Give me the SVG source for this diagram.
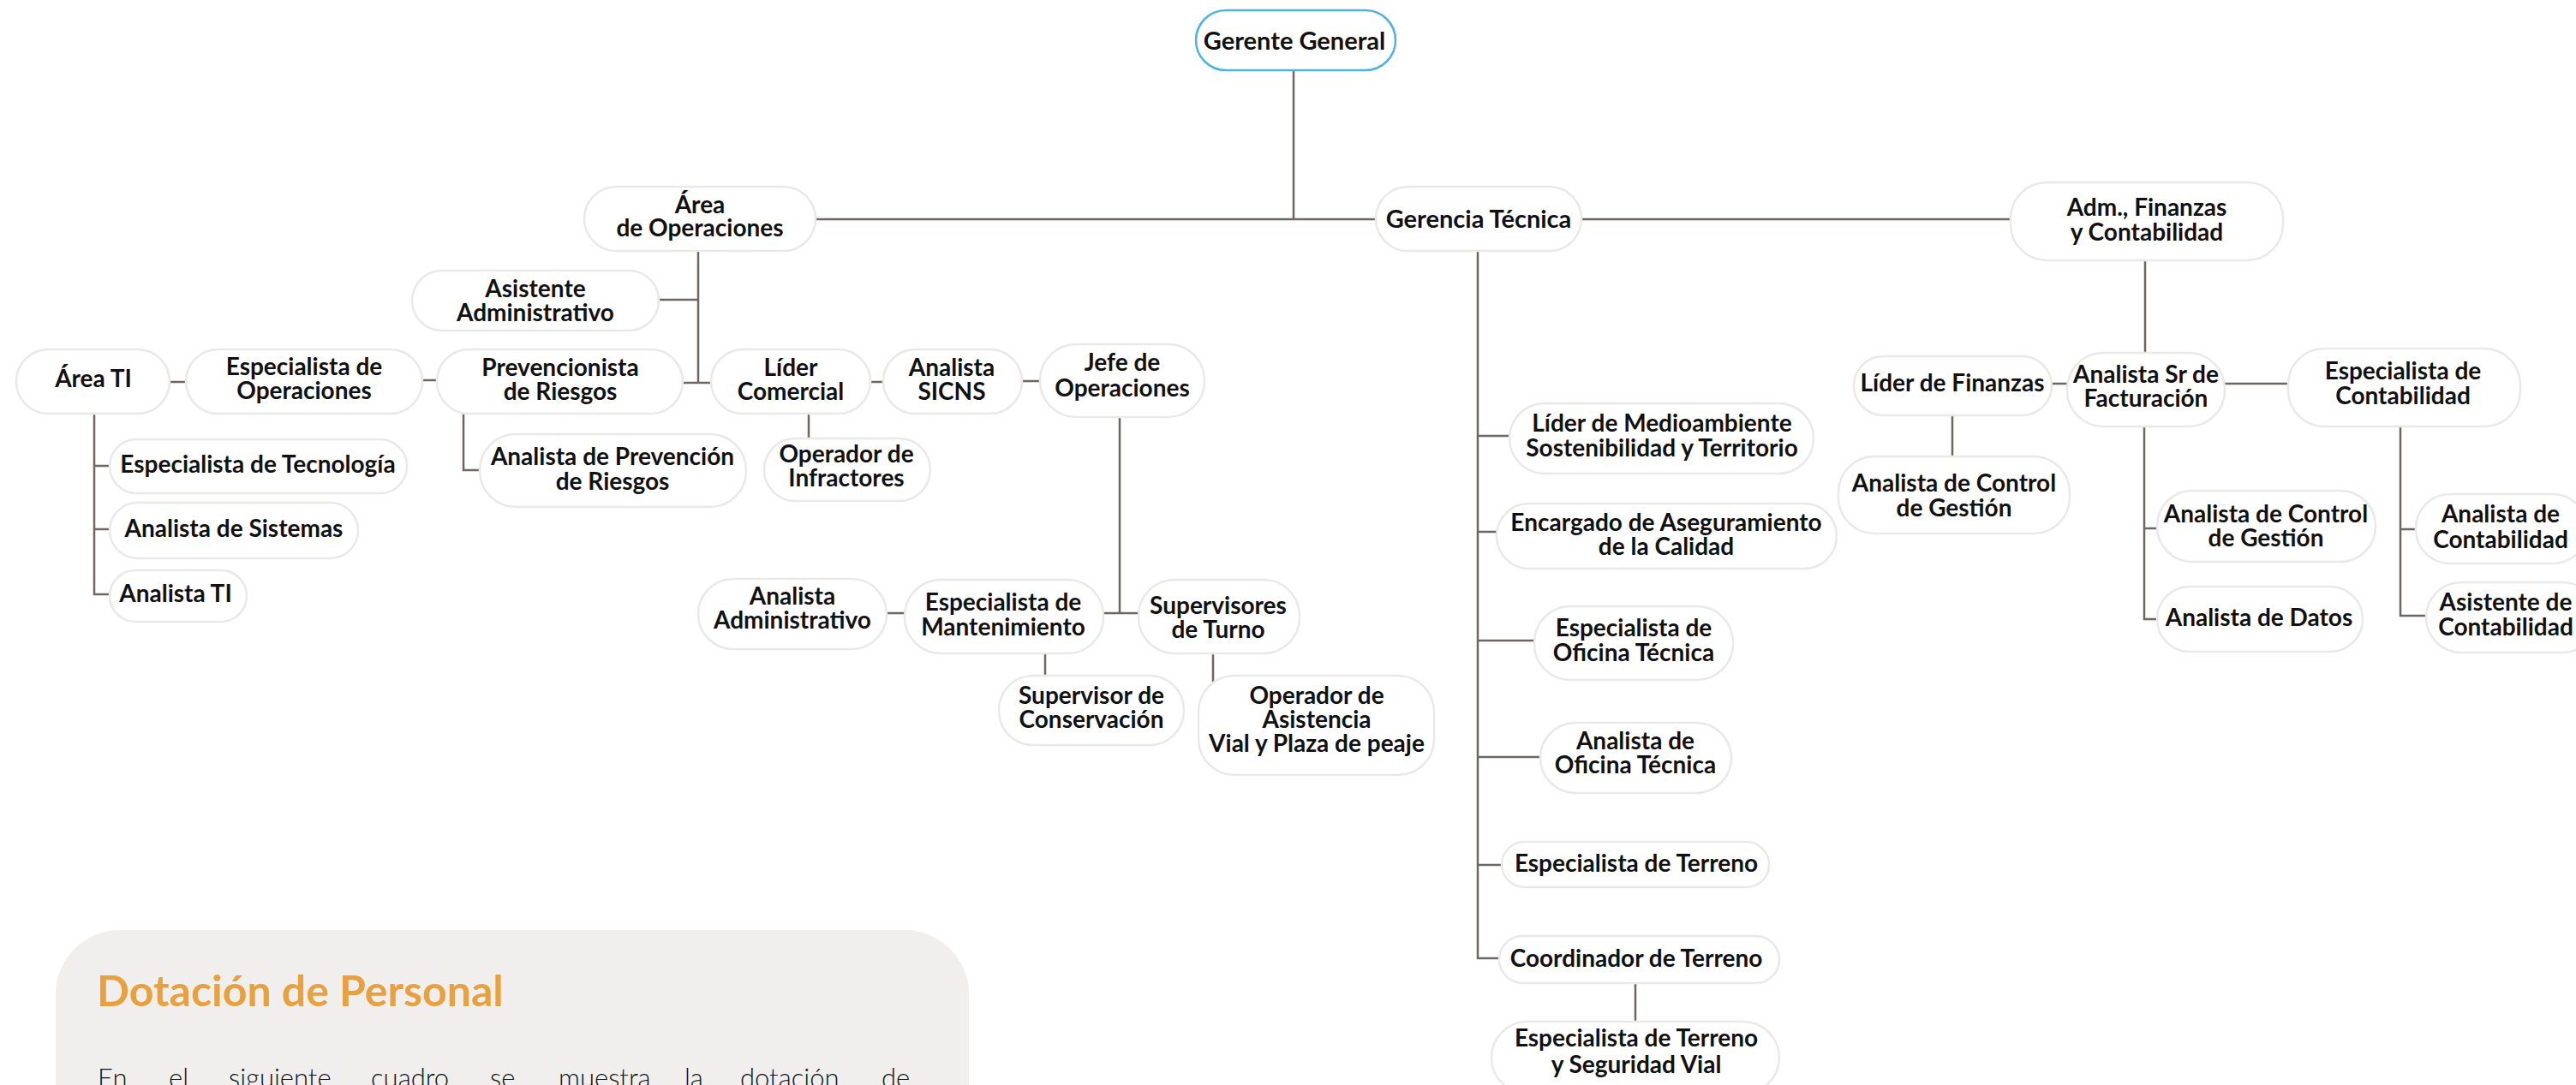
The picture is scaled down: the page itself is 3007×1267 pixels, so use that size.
<svg xmlns="http://www.w3.org/2000/svg" width="3007" height="1267" viewBox="0 0 3007 1267">
<style>
.n rect{fill:#fff;stroke:#ebe9e7;stroke-width:2.5}
.n text{font-family:Lato,"Liberation Sans",sans-serif;font-weight:700;font-size:28px;fill:#111;text-anchor:middle}
#gerente rect{stroke:#4fb3e1}
.big text{font-size:29px}
#connectors path{fill:none;stroke:#6f6562;stroke-width:2.5;stroke-linejoin:miter}
.title{font-family:Lato,"Liberation Sans",sans-serif;font-weight:700;font-size:50px;fill:#e9a03f}
.body{font-family:Lato,"Liberation Sans",sans-serif;font-weight:300;font-size:31px;fill:#111}
</style>
<rect width="3007" height="1267" fill="#fff"/>
<g id="connectors">
<path d="M1510 82V256"/>
<path d="M951 256H1606"/>
<path d="M1846 256H2347"/>
<path d="M815 293V447M770 350H815M797 447H830"/>
<path d="M1016 446H1031"/>
<path d="M1193 445H1214"/>
<path d="M944 483V512"/>
<path d="M541 483V549H560"/>
<path d="M493 444H510"/>
<path d="M198 446H217"/>
<path d="M110 483V694H128M110 544H128M110 618H128"/>
<path d="M1307 487V716M1288 716H1329"/>
<path d="M1035 716H1056"/>
<path d="M1220 763V789"/>
<path d="M1416 763V804"/>
<path d="M1725 293V1119H1750M1725 509H1762M1725 621H1747M1725 748H1791M1725 884H1799M1725 1010H1753"/>
<path d="M1909 1148V1193"/>
<path d="M2504 304V412"/>
<path d="M2395 448H2413"/>
<path d="M2597 448H2671"/>
<path d="M2279 485V533"/>
<path d="M2503 498V723H2518M2503 617H2518"/>
<path d="M2802 498V719H2832M2802 618H2820"/>
</g>
<g id="gerente" class="n big"><rect x="1396" y="12" width="233" height="70" rx="35"/><text x="1511" y="58">Gerente General</text></g>
<g id="area-ops" class="n"><rect x="682" y="218" width="270" height="75" rx="37.5"/><text x="817" y="249">Área</text><text x="817" y="276">de Operaciones</text></g>
<g id="gerencia-tec" class="n big"><rect x="1606" y="218" width="240" height="75" rx="37.5"/><text x="1726" y="266">Gerencia Técnica</text></g>
<g id="adm" class="n"><rect x="2347" y="213" width="318" height="91" rx="42"/><text x="2506" y="252">Adm., Finanzas</text><text x="2506" y="281">y Contabilidad</text></g>
<g id="asist-adm" class="n"><rect x="481" y="316" width="288" height="70" rx="35"/><text x="625" y="347">Asistente</text><text x="625" y="375">Administrativo</text></g>
<g id="area-ti" class="n"><rect x="19" y="408" width="179" height="75" rx="37.5"/><text x="109" y="452">Área TI</text></g>
<g id="esp-ops" class="n"><rect x="217" y="408" width="276" height="75" rx="37.5"/><text x="355" y="438">Especialista  de</text><text x="355" y="466">Operaciones</text></g>
<g id="prev" class="n"><rect x="510" y="408" width="287" height="75" rx="37.5"/><text x="654" y="439">Prevencionista</text><text x="654" y="467">de Riesgos</text></g>
<g id="lider-com" class="n"><rect x="830" y="408" width="186" height="75" rx="37.5"/><text x="923" y="439">Líder</text><text x="923" y="467">Comercial</text></g>
<g id="sicns" class="n"><rect x="1031" y="408" width="162" height="75" rx="37.5"/><text x="1111" y="439">Analista</text><text x="1111" y="467">SICNS</text></g>
<g id="jefe-ops" class="n"><rect x="1214" y="402" width="192" height="85" rx="42"/><text x="1310" y="433">Jefe de</text><text x="1310" y="463">Operaciones</text></g>
<g id="esp-tec" class="n"><rect x="128" y="513" width="347" height="63" rx="31.5"/><text x="301" y="552">Especialista de Tecnología</text></g>
<g id="an-sis" class="n"><rect x="128" y="587" width="290" height="65" rx="32.5"/><text x="273" y="627">Analista de Sistemas</text></g>
<g id="an-ti" class="n"><rect x="128" y="666" width="160" height="60" rx="30"/><text x="205" y="703">Analista TI</text></g>
<g id="an-prev" class="n"><rect x="560" y="507" width="311" height="85" rx="42"/><text x="715" y="543">Analista de Prevención</text><text x="715" y="572">de Riesgos</text></g>
<g id="op-inf" class="n"><rect x="892" y="512" width="194" height="73" rx="36.5"/><text x="988" y="540">Operador de</text><text x="988" y="568">Infractores</text></g>
<g id="an-adm" class="n"><rect x="815" y="676" width="220" height="82" rx="41"/><text x="925" y="706">Analista</text><text x="925" y="734">Administrativo</text></g>
<g id="esp-mant" class="n"><rect x="1056" y="677" width="232" height="86" rx="42"/><text x="1171" y="713">Especialista de</text><text x="1171" y="742">Mantenimiento</text></g>
<g id="sup-turno" class="n"><rect x="1329" y="677" width="188" height="86" rx="42"/><text x="1422" y="717">Supervisores</text><text x="1422" y="745">de Turno</text></g>
<g id="sup-cons" class="n"><rect x="1166" y="789" width="216" height="81" rx="40"/><text x="1274" y="822">Supervisor de</text><text x="1274" y="850">Conservación</text></g>
<g id="op-asist" class="n"><rect x="1399" y="789" width="275" height="116" rx="42"/><text x="1537" y="822">Operador de</text><text x="1537" y="850">Asistencia</text><text x="1537" y="878">Vial y Plaza de peaje</text></g>
<g id="lider-medio" class="n"><rect x="1762" y="471" width="355" height="82" rx="41"/><text x="1940" y="504">Líder de Medioambiente</text><text x="1940" y="533">Sostenibilidad y Territorio</text></g>
<g id="encargado" class="n"><rect x="1747" y="588" width="397" height="76" rx="38"/><text x="1945" y="620">Encargado de Aseguramiento</text><text x="1945" y="648">de la Calidad</text></g>
<g id="esp-ofi" class="n"><rect x="1791" y="708" width="232" height="86" rx="42"/><text x="1907" y="743">Especialista de</text><text x="1907" y="772">Oficina Técnica</text></g>
<g id="an-ofi" class="n"><rect x="1798" y="844" width="223" height="82" rx="41"/><text x="1909" y="875">Analista de</text><text x="1909" y="903">Oficina Técnica</text></g>
<g id="esp-terr" class="n"><rect x="1753" y="983" width="312" height="53" rx="26.5"/><text x="1910" y="1018">Especialista de Terreno</text></g>
<g id="coord" class="n"><rect x="1750" y="1093" width="327" height="55" rx="27.5"/><text x="1910" y="1129">Coordinador de Terreno</text></g>
<g id="esp-terr-seg" class="n"><rect x="1741" y="1193" width="336" height="84" rx="42"/><text x="1910" y="1222">Especialista de Terreno</text><text x="1910" y="1253">y Seguridad Vial</text></g>
<g id="lider-fin" class="n"><rect x="2164" y="416" width="231" height="69" rx="34.5"/><text x="2279" y="457">Líder de Finanzas</text></g>
<g id="an-sr" class="n"><rect x="2413" y="412" width="184" height="86" rx="42"/><text x="2505" y="447">Analista Sr de</text><text x="2505" y="475">Facturación</text></g>
<g id="esp-cont" class="n"><rect x="2671" y="407" width="271" height="91" rx="42"/><text x="2805" y="443">Especialista de</text><text x="2805" y="472">Contabilidad</text></g>
<g id="an-cg-l" class="n"><rect x="2146" y="533" width="270" height="90" rx="42"/><text x="2281" y="574">Analista de Control</text><text x="2281" y="603">de Gestión</text></g>
<g id="an-cg-r" class="n"><rect x="2518" y="573" width="255" height="83" rx="41"/><text x="2645" y="610">Analista de Control</text><text x="2645" y="638">de Gestión</text></g>
<g id="an-datos" class="n"><rect x="2518" y="685" width="240" height="76" rx="38"/><text x="2637" y="731">Analista de Datos</text></g>
<g id="an-cont" class="n"><rect x="2820" y="577" width="200" height="81" rx="40"/><text x="2919" y="610">Analista de</text><text x="2919" y="640">Contabilidad</text></g>
<g id="asist-cont" class="n"><rect x="2832" y="680" width="200" height="82" rx="41"/><text x="2925" y="713">Asistente de</text><text x="2925" y="742">Contabilidad</text></g>
<g id="panel">
<rect x="65" y="1086" width="1066" height="260" rx="75" fill="#f0efed"/>
<text class="title" x="113" y="1175">Dotación de Personal</text>
<text class="body" y="1270"><tspan x="114">En</tspan><tspan x="197">el</tspan><tspan x="267">siguiente</tspan><tspan x="433">cuadro</tspan><tspan x="572">se</tspan><tspan x="652">muestra</tspan><tspan x="799">la</tspan><tspan x="864">dotación</tspan><tspan x="1029">de</tspan></text>
</g>
</svg>
